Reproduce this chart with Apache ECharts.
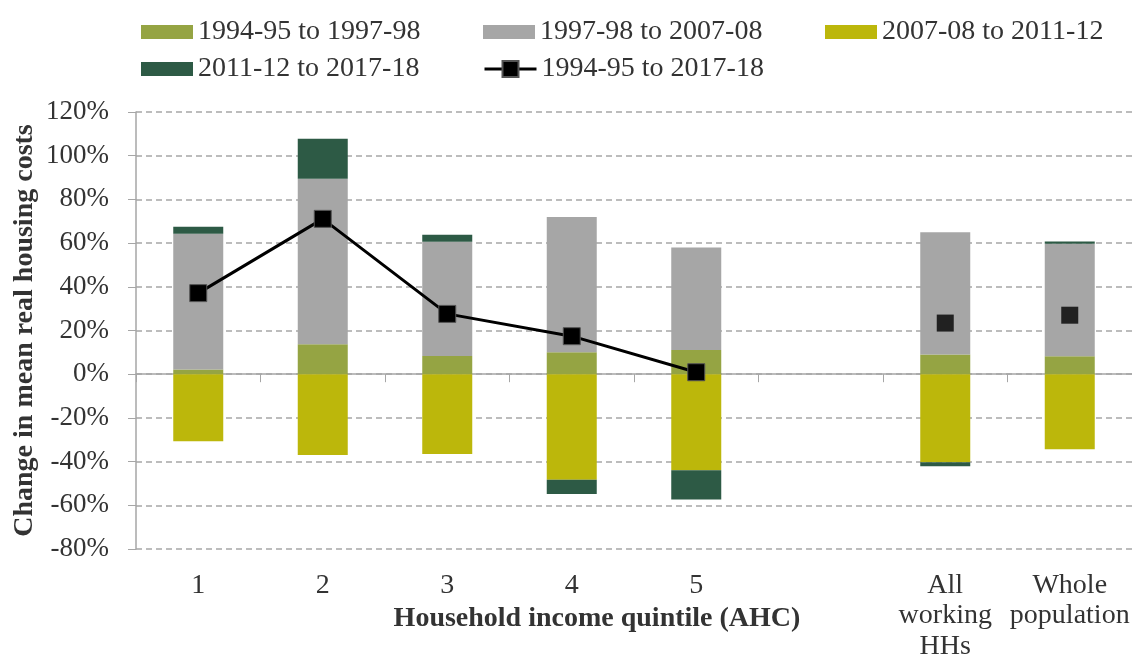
<!DOCTYPE html>
<html>
<head>
<meta charset="utf-8">
<script src="https://cdn.jsdelivr.net/npm/echarts@6/dist/echarts.min.js"></script>
<style>
  html, body { margin: 0; padding: 0; background: #fff; }
  #chart { width: 1132px; height: 655px; }
</style>
</head>
<body>
<div id="chart"></div>
<script>
const categories = ['1', '2', '3', '4', '5', '', 'All\nworking\nHHs', 'Whole\npopulation']

// percentage point contributions per period
const p1 = [2.1, 13.7, 8.3, 10.1, 11.1, null, 9.0, 8.2]
const p2 = [62.2, 75.8, 52.3, 61.9, 46.9, null, 56.0, 51.5]
const p3 = [-30.7, -37.0, -36.5, -48.3, -44.0, null, -40.3, -34.4]
const p4 = [3.2, 18.3, 3.2, -6.5, -13.4, null, -1.8, 1.0]
// overall change 1994-95 to 2017-18
const total = [37.1, 71.1, 27.6, 17.4, 0.9, null, 23.4, 27.0]

const names = ['1994-95 to 1997-98', '1997-98 to 2007-08', '2007-08 to 2011-12', '2011-12 to 2017-18', '1994-95 to 2017-18']
const colors = ['#95a443', '#a6a6a6', '#bcb70b', '#2d5a45']

const font = "'Liberation Serif', 'Times New Roman', serif"
const textColor = '#333'

// the quintiles get a joined line, the two totals just get a marker
const lineData = total.map((v, i) => (i < 5 ? v : null))
const pointData = total.map((v, i) => (i >= 6 ? v : null))

const barSeries = [p1, p2, p3, p4].map((d, i) => ({
  name: names[i],
  type: 'bar',
  stack: 'all',
  xAxisIndex: 0,
  barWidth: 50,
  itemStyle: { color: colors[i] },
  data: d
}))

const legendBase = {
  orient: 'vertical',
  top: 13,
  icon: 'rect',
  itemWidth: 52,
  itemHeight: 14,
  itemGap: 9,
  textStyle: { fontFamily: font, fontSize: 28, color: textColor }
}

const option = {
  animation: false,
  textStyle: { fontFamily: font },
  legend: [
    Object.assign({}, legendBase, { left: 136, data: [names[0], names[3]] }),
    Object.assign({}, legendBase, { left: 478, data: [names[1]] }),
    Object.assign({}, legendBase, {
      left: 478, top: 50, icon: null, itemHeight: 20,
      lineStyle: { width: 3, color: '#000' },
      data: [names[4]]
    }),
    Object.assign({}, legendBase, { left: 820, data: [names[2]] })
  ],
  grid: { left: 136, right: 0, top: 112, bottom: 106, containLabel: false, outerBoundsMode: 'none' },
  xAxis: [
    {
      type: 'category',
      data: categories,
      position: 'top',
      axisLine: { onZero: true, lineStyle: { color: '#a6a6a6', width: 1.5 } },
      axisTick: { show: true, inside: true, length: 8, lineStyle: { color: '#a6a6a6' } },
      axisLabel: { show: false },
      splitLine: { show: false }
    },
    {
      type: 'category',
      data: categories,
      position: 'bottom',
      axisLine: { show: false, onZero: false },
      axisTick: { show: false },
      axisLabel: { margin: 21, fontFamily: font, fontSize: 28, color: textColor, lineHeight: 30.5, interval: 0 },
      name: 'Household income quintile (AHC)',
      nameLocation: 'middle',
      nameGap: 56,
      nameMoveOverlap: false,
      nameTextStyle: { fontFamily: font, fontSize: 28, fontWeight: 'bold', color: textColor, padding: [0, 74, 0, 0] }
    }
  ],
  yAxis: {
    type: 'value',
    min: -80,
    max: 120,
    interval: 20,
    axisLine: { show: true, lineStyle: { color: '#a6a6a6', width: 1.5 } },
    axisTick: { show: true, length: 8, lineStyle: { color: '#a6a6a6' } },
    axisLabel: { formatter: '{value}%', margin: 27, fontFamily: font, fontSize: 27, color: textColor },
    splitLine: { lineStyle: { color: '#a6a6a6', type: [6, 4], width: 1.5 } },
    name: 'Change in mean real housing costs',
    nameLocation: 'middle',
    nameGap: 97,
    nameMoveOverlap: false,
    nameTextStyle: { fontFamily: font, fontSize: 28, fontWeight: 'bold', color: textColor }
  },
  series: barSeries.concat([
    {
      name: names[4],
      type: 'line',
      xAxisIndex: 0,
      data: lineData,
      symbol: 'rect',
      symbolSize: 17,
      lineStyle: { color: '#000', width: 3 },
      itemStyle: { color: '#000', borderColor: '#555', borderWidth: 1 },
      z: 5
    },
    {
      name: names[4],
      type: 'scatter',
      xAxisIndex: 0,
      data: pointData,
      symbol: 'rect',
      symbolSize: 17,
      itemStyle: { color: '#000' },
      z: 5
    }
  ])
}

const chart = echarts.init(document.getElementById('chart'))
chart.setOption(option)
</script>
</body>
</html>
